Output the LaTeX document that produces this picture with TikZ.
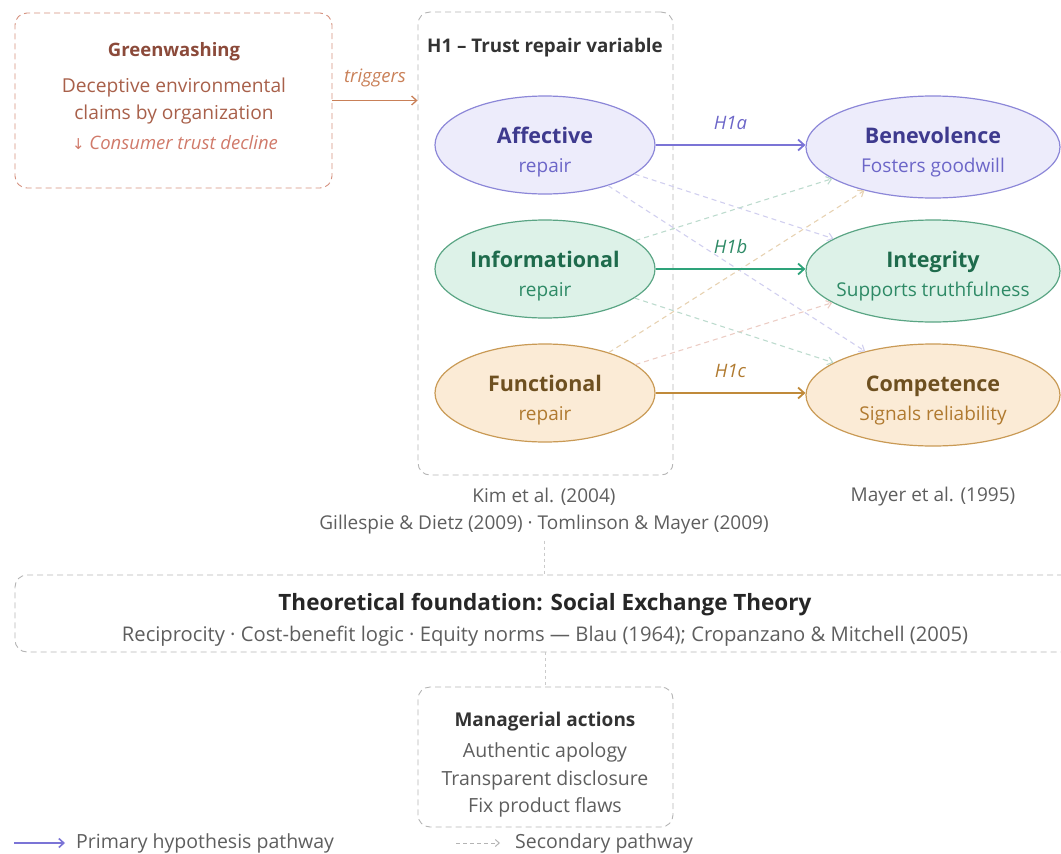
\documentclass[tikz,border=0pt]{standalone}
\usepackage{fontspec}
\setmainfont{Open Sans}
\newfontfamily\symfont{DejaVu Sans}
\newcommand{\ttlfont}{\bfseries\fontsize{21.5}{29}\selectfont}
\usetikzlibrary{arrows.meta,shapes.geometric}
\definecolor{pfill}{HTML}{EDECFB}
\definecolor{pline}{HTML}{8C87D8}
\definecolor{pdark}{HTML}{3E3A8E}
\definecolor{pmid}{HTML}{6C66C8}
\definecolor{parrow}{HTML}{7B74D6}
\definecolor{gfill}{HTML}{DDF2E8}
\definecolor{gline}{HTML}{5AA584}
\definecolor{gdark}{HTML}{1E6B4C}
\definecolor{gmid}{HTML}{2E8A66}
\definecolor{garrow}{HTML}{2EA37A}
\definecolor{ofill}{HTML}{FBEBD6}
\definecolor{oline}{HTML}{C99A55}
\definecolor{odark}{HTML}{6E5020}
\definecolor{omid}{HTML}{B07A30}
\definecolor{oarrow}{HTML}{C08A3A}
\definecolor{rline}{HTML}{D4907E}
\definecolor{rdark}{HTML}{8B4A3A}
\definecolor{rmid}{HTML}{A8604A}
\definecolor{rlight}{HTML}{D07A6A}
\definecolor{tarrow}{HTML}{C98058}
\definecolor{boxgray}{HTML}{B4B4B4}
\definecolor{txtgray}{HTML}{5E5E5E}
\definecolor{darktxt}{HTML}{333333}
\tikzset{
  x=1pt, y=-1pt,
  ell/.style={ellipse, line width=1.2pt, inner sep=0pt},
  lell/.style={ell, minimum width=220pt, minimum height=98pt},
  rell/.style={ell, minimum width=254pt, minimum height=102pt},
  etext/.style={inner sep=0pt, align=center, font=\fontsize{19}{29}\selectfont},
  dbox/.style={draw=boxgray, line width=0.9pt, rounded corners=12pt, dash pattern=on 6pt off 4pt},
  prim/.style={line width=1.8pt, -{Straight Barb[length=6pt,width=11pt]}},
  sec/.style={line width=1.1pt, dash pattern=on 5pt off 4pt, -{Straight Barb[length=5pt,width=8pt]}},
  lbl/.style={inner sep=0pt, font=\fontsize{18.5}{20}\selectfont\itshape},
  ref/.style={inner sep=0pt, text=txtgray, font=\fontsize{19}{22}\selectfont},
}
\begin{document}
\begin{tikzpicture}
\useasboundingbox (0,0) rectangle (1061,854);
\clip (0,0) rectangle (1061,854);
% greenwashing box
\node[dbox, draw=rline, minimum width=317pt, minimum height=175pt] (green) at (173.5,100.5) {};
\node[inner sep=0pt, text=rdark, font=\fontsize{18.5}{20}\selectfont\bfseries] (gtitle) at (174,52) {Greenwashing};
\node[inner sep=0pt, text=rmid, align=center, font=\fontsize{19.2}{27}\selectfont] (gbody) at (174,101) {Deceptive environmental\\claims by organization};
\node[inner sep=0pt, text=rlight, font=\fontsize{18.5}{20}\selectfont\itshape] (gdecl) at (175,143) {{\symfont\upshape\fontsize{15}{20}\selectfont ↓} Consumer trust decline};
% H1 container
\node[dbox, minimum width=255pt, minimum height=463pt] (h1) at (545.5,243.5) {};
\node[inner sep=0pt, text=darktxt, font=\fontsize{18.8}{20}\selectfont\bfseries] (h1t) at (545,48) {H1 – Trust repair variable};
% triggers
\draw[line width=1.3pt, draw=tarrow, -{Straight Barb[length=5pt,width=9pt]}] (green.east) -- node[lbl, text=tarrow, above=13pt] (trig) {triggers} (h1.west |- green.east);
% left ellipses
\node[lell, fill=pfill, draw=pline] (aff) at (545,145) {};
\node[lell, fill=gfill, draw=gline] (inf) at (545,269) {};
\node[lell, fill=ofill, draw=oline] (fun) at (545,393) {};
% right ellipses
\node[rell, fill=pfill, draw=pline] (ben) at (933,147) {};
\node[rell, fill=gfill, draw=gline] (int) at (933,271) {};
\node[rell, fill=ofill, draw=oline] (com) at (933,395) {};
% ellipse texts
\node[etext] (afft) at ([yshift=-7pt]aff.center) {\textcolor{pdark}{\ttlfont Affective}\\\textcolor{pmid}{repair}};
\node[etext] (inft) at ([yshift=-7pt]inf.center) {\textcolor{gdark}{\ttlfont Informational}\\\textcolor{gmid}{repair}};
\node[etext] (funt) at ([yshift=-7pt]fun.center) {\textcolor{odark}{\ttlfont Functional}\\\textcolor{omid}{repair}};
\node[etext] (bent) at ([yshift=-5pt]ben.center) {\textcolor{pdark}{\ttlfont Benevolence}\\\textcolor{pmid}{Fosters goodwill}};
\node[etext] (intt) at ([yshift=-5pt]int.center) {\textcolor{gdark}{\ttlfont Integrity}\\\textcolor{gmid}{Supports truthfulness}};
\node[etext] (comt) at ([yshift=-5pt]com.center) {\textcolor{odark}{\ttlfont Competence}\\\textcolor{omid}{Signals reliability}};
% secondary pathways
\draw[sec, draw=pline!40] (aff) -- (int);
\draw[sec, draw=pline!40] (aff) -- (com);
\draw[sec, draw=gline!40] (inf) -- (ben);
\draw[sec, draw=gline!40] (inf) -- (com);
\draw[sec, draw=oline!45] (fun) -- (ben);
\draw[sec, draw=rline!45] (fun) -- (int);
% primary pathways
\draw[prim, draw=parrow] (aff.east) -- node[lbl, text=pmid, above=14pt] (h1a) {H1a} (aff.east -| ben.west);
\draw[prim, draw=garrow] (inf.east) -- node[lbl, text=gmid, above=14pt] (h1b) {H1b} (inf.east -| int.west);
\draw[prim, draw=oarrow] (fun.east) -- node[lbl, text=omid, above=14pt] (h1c) {H1c} (fun.east -| com.west);
% references
\node[ref] (kim) at (544,497) {Kim et al. (2004)};
\node[ref] (gil) at (544,525) {Gillespie \& Dietz (2009) · Tomlinson \& Mayer (2009)};
\node[ref] (may) at (933,497) {Mayer et al. (1995)};
% foundation
\node[dbox, minimum width=1070pt, minimum height=77pt] (found) at (550,613.5) {};
\node[inner sep=0pt, text=black!85, font=\fontsize{22.5}{24}\selectfont\bfseries] (ftitle) at (545,605) {Theoretical foundation: Social Exchange Theory};
\node[inner sep=0pt, text=txtgray, font=\fontsize{20.2}{22}\selectfont] (fbody) at (545,636) {Reciprocity · Cost-benefit logic · Equity norms — Blau (1964); Cropanzano \& Mitchell (2005)};
% managerial
\node[dbox, minimum width=255pt, minimum height=140pt] (man) at (545.5,757) {};
\node[inner sep=0pt, text=darktxt, font=\fontsize{19}{20}\selectfont\bfseries] (mtitle) at (545,722) {Managerial actions};
\node[inner sep=0pt, text=txtgray, align=center, font=\fontsize{19.5}{27.5}\selectfont] (mbody) at (545,780) {Authentic apology\\Transparent disclosure\\Fix product flaws};
% vertical connectors
\draw[boxgray!70, line width=0.8pt, dash pattern=on 3pt off 3pt] (gil.south) ++(0,6) coordinate (c1) (c1) -- (found.north -| c1);
\draw[boxgray!70, line width=0.8pt, dash pattern=on 3pt off 3pt] (found.south -| man.north) -- (man.north);
% legend
\coordinate (l1a) at (14,843);
\coordinate (l1b) at (65,843);
\draw[line width=1.6pt, draw=parrow, -{Straight Barb[length=5pt,width=9pt]}] (l1a) -- (l1b);
\node[anchor=west, inner sep=0pt, text=txtgray, font=\fontsize{19.5}{20}\selectfont] (leg1) at (76,843) {Primary hypothesis pathway};
\coordinate (l2a) at (456,843);
\coordinate (l2b) at (500,843);
\draw[line width=1pt, draw=boxgray, dash pattern=on 4pt off 3pt, -{Straight Barb[length=4pt,width=7pt]}] (l2a) -- (l2b);
\node[anchor=west, inner sep=0pt, text=txtgray, font=\fontsize{19.5}{20}\selectfont] (leg2) at (515,843) {Secondary pathway};
\end{tikzpicture}
\end{document}
